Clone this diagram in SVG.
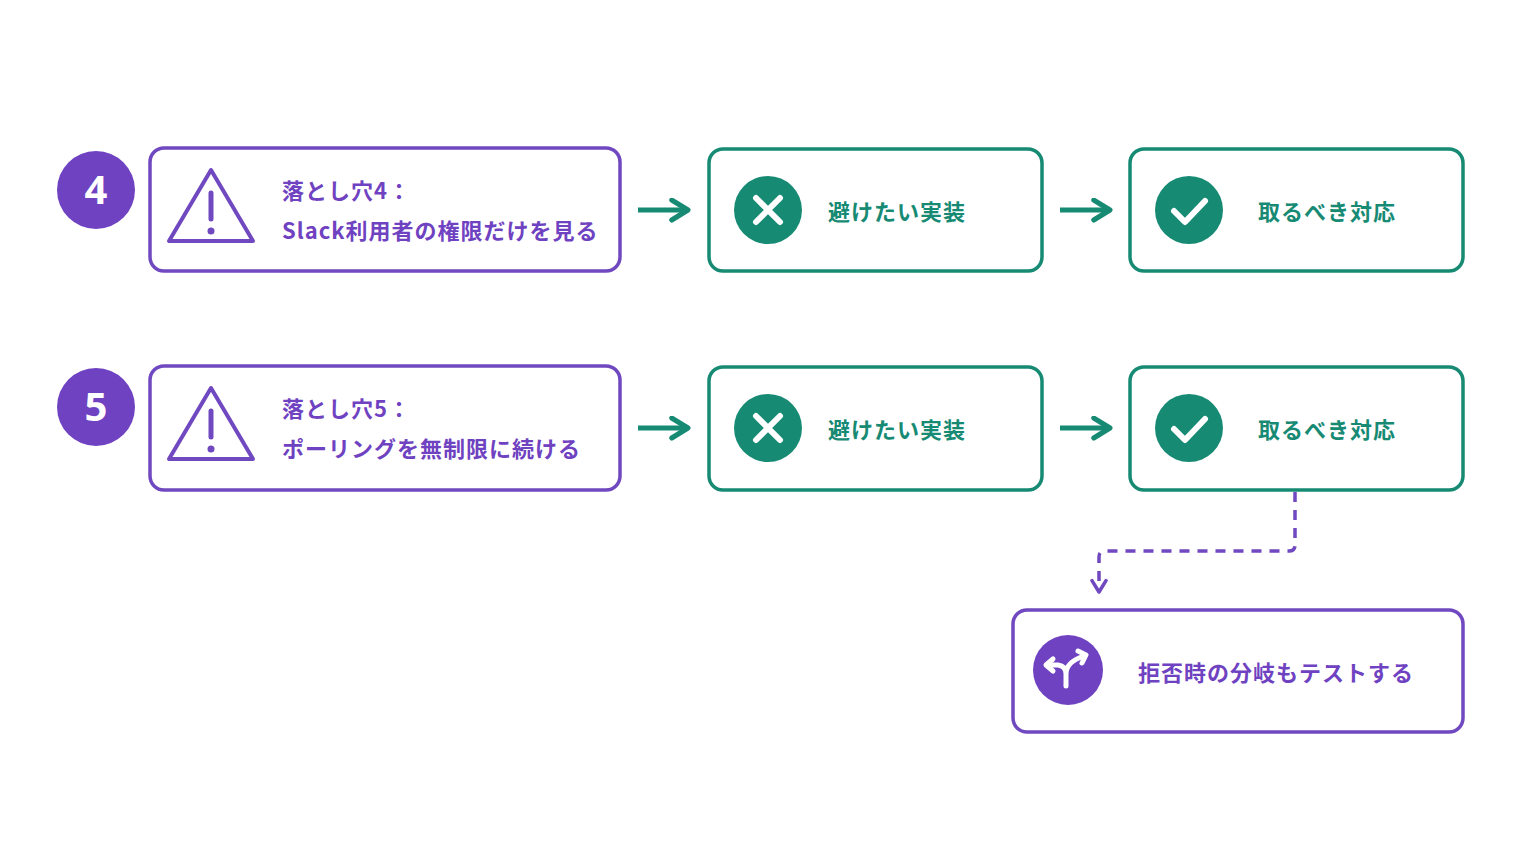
<svg xmlns="http://www.w3.org/2000/svg" width="1536" height="864" viewBox="0 0 1536 864">
<style>
.p{fill:#fff;stroke:#7048c0;stroke-width:3.5}
.g{fill:#fff;stroke:#178a74;stroke-width:3.5}
.t{font-family:"Noto Sans CJK JP","Noto Sans",sans-serif;font-weight:700;font-size:22px;letter-spacing:1px}
.tp{fill:#6f42c1}.tg{fill:#178a74}
.n{font-family:"Noto Sans",sans-serif;font-weight:700;font-size:40px;fill:#fff;text-anchor:middle}
</style>
<defs>
<marker id="ah" viewBox="0 0 10 10" refX="8" refY="5" markerWidth="5" markerHeight="5" orient="auto"><path d="M1.5,1 L8,5 L1.5,9" fill="none" stroke="#178a74" stroke-width="2" stroke-linecap="round" stroke-linejoin="round"/></marker>
<marker id="ap" viewBox="0 0 10 10" refX="8" refY="5" markerWidth="5" markerHeight="5" orient="auto"><path d="M1.5,1 L8,5 L1.5,9" fill="none" stroke="#7048c0" stroke-width="2" stroke-linecap="round" stroke-linejoin="round"/></marker>
<g id="warn"><path d="M0,-37 L-42,34 L42,34 Z" fill="none" stroke="#7048c0" stroke-width="4" stroke-linejoin="round"/><line x1="0" y1="-14" x2="0" y2="12" stroke="#7048c0" stroke-width="5" stroke-linecap="round"/><circle cx="0" cy="24" r="3.5" fill="#7048c0"/></g>
<g id="x"><circle r="34" fill="#178a74"/><path d="M-12,-12 L12,12 M12,-12 L-12,12" stroke="#fff" stroke-width="6" stroke-linecap="round"/></g>
<g id="ok"><circle r="34" fill="#178a74"/><path d="M-15,1 L-4,12 L16,-9" fill="none" stroke="#fff" stroke-width="6" stroke-linecap="round" stroke-linejoin="round"/></g>
</defs>
<rect width="1536" height="864" fill="#fff"/>
<g id="num4"><circle cx="96" cy="190" r="39" fill="#6f42c1"/><text class="n" x="96" y="204">4</text></g>
<g id="pit4"><rect class="p" x="150" y="148" width="470" height="123" rx="14"/><use href="#warn" x="211" y="207"/><text class="t tp" x="282" y="199">落とし穴4：</text><text class="t tp" x="282" y="239">Slack利用者の権限だけを見る</text></g>
<g id="bad4"><rect class="g" x="709" y="149" width="333" height="122" rx="14"/><use href="#x" x="768" y="210"/><text class="t tg" x="828" y="220">避けたい実装</text></g>
<g id="good4"><rect class="g" x="1130" y="149" width="333" height="122" rx="14"/><use href="#ok" x="1189" y="210"/><text class="t tg" x="1258" y="220">取るべき対応</text></g>
<g id="num5"><circle cx="96" cy="407" r="39" fill="#6f42c1"/><text class="n" x="96" y="421">5</text></g>
<g id="pit5"><rect class="p" x="150" y="366" width="470" height="124" rx="14"/><use href="#warn" x="211" y="425"/><text class="t tp" x="282" y="417">落とし穴5：</text><text class="t tp" x="282" y="457">ポーリングを無制限に続ける</text></g>
<g id="bad5"><rect class="g" x="709" y="367" width="333" height="123" rx="14"/><use href="#x" x="768" y="428"/><text class="t tg" x="828" y="438">避けたい実装</text></g>
<g id="good5"><rect class="g" x="1130" y="367" width="333" height="123" rx="14"/><use href="#ok" x="1189" y="428"/><text class="t tg" x="1258" y="438">取るべき対応</text></g>
<g id="test"><rect class="p" x="1013" y="610" width="450" height="122" rx="14"/><circle cx="1068" cy="670" r="35" fill="#6f42c1"/><path d="M1066,686 L1066,674 Q1066,666 1058,665 L1048,665 M1066,674 Q1066,662 1084,656" fill="none" stroke="#fff" stroke-width="5" stroke-linecap="round" stroke-linejoin="round"/><path d="M1053,659 L1046,665 L1053,671 M1078,651 L1086,655 L1082,663" fill="none" stroke="#fff" stroke-width="5" stroke-linecap="round" stroke-linejoin="round"/><text class="t tp" x="1138" y="681">拒否時の分岐もテストする</text></g>
<g id="connectors" fill="none" stroke-width="5">
<line x1="638" y1="210" x2="688" y2="210" stroke="#178a74" marker-end="url(#ah)"/>
<line x1="1060" y1="210" x2="1110" y2="210" stroke="#178a74" marker-end="url(#ah)"/>
<line x1="638" y1="428" x2="688" y2="428" stroke="#178a74" marker-end="url(#ah)"/>
<line x1="1060" y1="428" x2="1110" y2="428" stroke="#178a74" marker-end="url(#ah)"/>
<path d="M1295,492 L1295,545 Q1295,551 1289,551 L1105,551 Q1099,551 1099,557 L1099,592" stroke="#7048c0" stroke-width="3.5" stroke-dasharray="10,8" marker-end="url(#ap)"/>
</g>
</svg>
